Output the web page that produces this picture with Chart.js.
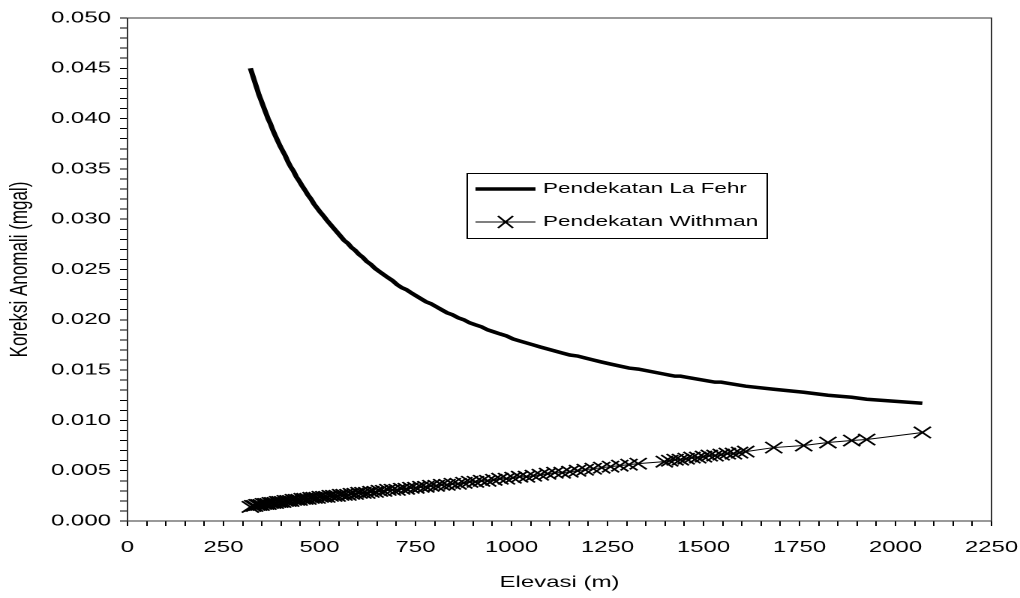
<!DOCTYPE html>
<html>
<head>
<meta charset="utf-8">
<script src="https://cdn.jsdelivr.net/npm/chart.js@4.4.1/dist/chart.umd.min.js"></script>
<style>
  html, body { margin: 0; padding: 0; background: #fff; overflow: hidden; }
  /* the reference is an Excel chart stretched sideways, so draw narrow and stretch */
  #wrap { width: 680px; height: 598px; transform: scaleX(1.5); transform-origin: 0 0; }
</style>
</head>
<body>
<div id="wrap"><canvas id="chart" width="680" height="598" style="width:680px;height:598px"></canvas></div>
<script>
// elevation of each station (m)
const elevation = [
  320, 326, 331, 337, 342, 348, 354, 360, 366, 372,
  378, 385, 391, 397, 404, 411, 418, 425, 432, 440,
  447, 455, 462, 470, 478, 486, 494, 502, 511, 519,
  528, 537, 546, 555, 564, 574, 583, 593, 603, 613,
  623, 634, 645, 656, 667, 678, 690, 702, 714, 726,
  738, 751, 764, 777, 790, 804, 818, 832, 846, 861,
  876, 891, 906, 922, 938, 954, 970, 987, 1004, 1021,
  1039, 1057, 1075, 1094, 1113, 1132, 1152, 1172, 1192, 1213,
  1235, 1258, 1282, 1306, 1330, 1398, 1412, 1426, 1440, 1455,
  1470, 1485, 1500, 1515, 1530, 1546, 1562, 1578, 1594, 1610,
  1683, 1761, 1824, 1886, 1925, 2070
];

// Pendekatan La Fehr (mgal)
const laFehr = [
  0.0450, 0.0443, 0.0437, 0.0430, 0.0424, 0.0418, 0.0412, 0.0406, 0.0400, 0.0395,
  0.0389, 0.0383, 0.0378, 0.0373, 0.0368, 0.0363, 0.0357, 0.0352, 0.0348, 0.0342,
  0.0338, 0.0333, 0.0329, 0.0324, 0.0320, 0.0315, 0.0311, 0.0307, 0.0303, 0.0299,
  0.0295, 0.0291, 0.0287, 0.0283, 0.0279, 0.0276, 0.0272, 0.0269, 0.0265, 0.0262,
  0.0258, 0.0255, 0.0251, 0.0248, 0.0245, 0.0242, 0.0239, 0.0235, 0.0232, 0.0230,
  0.0227, 0.0224, 0.0221, 0.0218, 0.0216, 0.0213, 0.0210, 0.0207, 0.0205, 0.0202,
  0.0200, 0.0197, 0.0195, 0.0193, 0.0190, 0.0188, 0.0186, 0.0184, 0.0181, 0.0179,
  0.0177, 0.0175, 0.0173, 0.0171, 0.0169, 0.0167, 0.0165, 0.0164, 0.0162, 0.0160,
  0.0158, 0.0156, 0.0154, 0.0152, 0.0151, 0.0146, 0.0145, 0.0144, 0.0144, 0.0143,
  0.0142, 0.0141, 0.0140, 0.0139, 0.0138, 0.0138, 0.0137, 0.0136, 0.0135, 0.0134,
  0.0131, 0.0128, 0.0125, 0.0123, 0.0121, 0.0117
];

// Pendekatan Withman (mgal)
const withman = [
  0.0014, 0.0015, 0.0015, 0.0016, 0.0016, 0.0016, 0.0017, 0.0017, 0.0017, 0.0018,
  0.0018, 0.0018, 0.0019, 0.0019, 0.0019, 0.0020, 0.0020, 0.0020, 0.0021, 0.0021,
  0.0021, 0.0022, 0.0022, 0.0022, 0.0023, 0.0023, 0.0023, 0.0024, 0.0024, 0.0024,
  0.0025, 0.0025, 0.0025, 0.0026, 0.0026, 0.0026, 0.0027, 0.0027, 0.0028, 0.0028,
  0.0028, 0.0029, 0.0029, 0.0030, 0.0030, 0.0031, 0.0031, 0.0031, 0.0032, 0.0032,
  0.0033, 0.0033, 0.0034, 0.0034, 0.0035, 0.0035, 0.0036, 0.0036, 0.0037, 0.0037,
  0.0038, 0.0039, 0.0039, 0.0040, 0.0040, 0.0041, 0.0042, 0.0042, 0.0043, 0.0044,
  0.0044, 0.0045, 0.0046, 0.0047, 0.0048, 0.0048, 0.0049, 0.0050, 0.0051, 0.0052,
  0.0053, 0.0054, 0.0055, 0.0056, 0.0057, 0.0059, 0.0060, 0.0061, 0.0061, 0.0062,
  0.0063, 0.0063, 0.0064, 0.0065, 0.0065, 0.0066, 0.0067, 0.0067, 0.0068, 0.0069,
  0.0073, 0.0075, 0.0078, 0.0080, 0.0081, 0.0088
];

const seriesNames = ["Pendekatan La Fehr", "Pendekatan Withman"];
const xTitle = "Elevasi (m)";
const yTitle = "Koreksi Anomali (mgal)";

const FONT = { family: "'Liberation Sans', Arial, sans-serif", size: 16 };

// box around the plot area
const frame = {
  id: "frame",
  afterDraw(chart) {
    const { ctx, chartArea: a } = chart;
    ctx.save();
    ctx.strokeStyle = "#333";
    ctx.lineWidth = 1;
    ctx.strokeRect(a.left, a.top, a.right - a.left, a.bottom - a.top);
    ctx.restore();
  }
};

// legend box sitting inside the plot
const insideLegend = {
  id: "insideLegend",
  afterDraw(chart) {
    const ctx = chart.ctx;
    ctx.save();
    ctx.fillStyle = "#fff";
    ctx.fillRect(311, 173, 200, 65);
    ctx.strokeStyle = "#000";
    ctx.lineWidth = 1;
    ctx.strokeRect(311.5, 173.5, 200, 65);

    ctx.lineWidth = 3.5;
    ctx.beginPath();
    ctx.moveTo(317, 189);
    ctx.lineTo(357, 189);
    ctx.stroke();

    ctx.lineWidth = 1;
    ctx.beginPath();
    ctx.moveTo(317, 222);
    ctx.lineTo(357, 222);
    ctx.stroke();
    ctx.lineWidth = 1.4;
    ctx.beginPath();
    ctx.moveTo(332, 216); ctx.lineTo(342, 228);
    ctx.moveTo(342, 216); ctx.lineTo(332, 228);
    ctx.stroke();

    ctx.fillStyle = "#000";
    ctx.font = "15px " + FONT.family;
    ctx.textBaseline = "middle";
    ctx.textAlign = "left";
    ctx.fillText(seriesNames[0], 362, 189);
    ctx.fillText(seriesNames[1], 362, 222);
    ctx.restore();
  }
};

new Chart(document.getElementById("chart"), {
  type: "scatter",
  data: {
    datasets: [
      {
        label: seriesNames[0],
        data: elevation.map((e, i) => ({ x: e, y: laFehr[i] })),
        showLine: true,
        borderColor: "#000",
        borderWidth: 3.5,
        pointRadius: 0,
        tension: 0
      },
      {
        label: seriesNames[1],
        data: elevation.map((e, i) => ({ x: e, y: withman[i] })),
        showLine: true,
        borderColor: "#000",
        borderWidth: 1,
        pointStyle: "crossRot",
        pointRadius: 8,
        pointBorderWidth: 1.5,
        pointBorderColor: "#000",
        tension: 0
      }
    ]
  },
  options: {
    responsive: false,
    devicePixelRatio: 2,
    animation: false,
    layout: { padding: { top: 18, right: 19, left: 0, bottom: 0 } },
    plugins: {
      legend: { display: false },
      tooltip: { enabled: false }
    },
    scales: {
      x: {
        type: "linear",
        min: 0,
        max: 2250,
        afterFit(scale) {
          scale.height = 77;
          scale.paddingLeft = 0;
          scale.paddingRight = 0;
        },
        ticks: {
          stepSize: 50,
          maxTicksLimit: 100,
          autoSkip: false,
          maxRotation: 0,
          padding: 12,
          color: "#000",
          font: FONT,
          callback: v => (v % 250 === 0 ? String(v) : "")
        },
        grid: { drawOnChartArea: false, drawTicks: true, tickLength: 5, tickColor: "#000" },
        border: { display: true, color: "#000", width: 1 },
        title: { display: true, text: xTitle, color: "#000", font: FONT, padding: { top: 0, bottom: 6 } }
      },
      y: {
        type: "linear",
        min: 0,
        max: 0.05,
        afterFit(scale) { scale.width = 85; },
        ticks: {
          stepSize: 0.001,
          maxTicksLimit: 100,
          autoSkip: false,
          padding: 6,
          color: "#000",
          font: FONT,
          callback: v => (Math.round(v * 1000) % 5 === 0 ? v.toFixed(3) : "")
        },
        grid: { drawOnChartArea: false, drawTicks: true, tickLength: 5, tickColor: "#000" },
        border: { display: true, color: "#000", width: 1 },
        title: {
          display: true, text: yTitle, color: "#000",
          font: { family: FONT.family, size: 17 },
          padding: { top: 3, bottom: 0 }
        }
      }
    }
  },
  plugins: [frame, insideLegend]
});
</script>
</body>
</html>
